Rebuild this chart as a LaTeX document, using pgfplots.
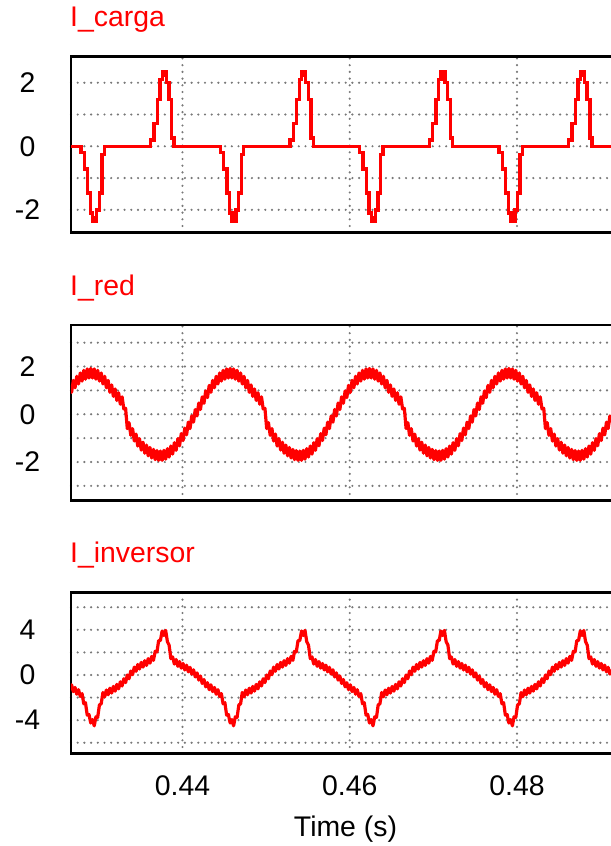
\documentclass[border=0pt]{standalone}
\usepackage{pgfplots}
\pgfplotsset{compat=1.18}
\usepackage{pgfplotstable}
\usepackage{fontspec}
\setmainfont{Liberation Sans}
\definecolor{psimred}{RGB}{255,0,0}
\definecolor{gridgray}{RGB}{120,120,120}
\newcommand{\fs}{\fontsize{28.5}{34}\selectfont}
\pgfplotsset{
  psim/.style={
    scale only axis,
    anchor=south west,
    width=543bp,
    xmin=0.42667, xmax=0.4916,
    xtick={0.44,0.46,0.48},
    major tick length=0pt,
    xmajorgrids, ymajorgrids,
    grid style={gridgray, line width=2.4bp, line cap=round, dash pattern=on 0bp off 6.7bp},
    axis line style={line width=2.8bp, black},
    tick label style={font=\fs, black},
    label style={font=\fs},
    yticklabel style={anchor=center, inner sep=0pt, xshift=-43.5bp},
    xticklabel style={anchor=base, inner sep=0pt, yshift=-41.7bp},
    title style={font=\fs, text=psimred, at={(0,1)}, anchor=base west, inner sep=0pt, xshift=-1bp, yshift=23.8bp},
  }
}
\pgfplotstableread{
t r v
0.42653 1.21 -1.30
0.42674 0.92 -0.87
0.42695 1.42 -1.47
0.42715 1.11 -1.10
0.42736 1.59 -1.70
0.42757 1.27 -1.30
0.42778 1.73 -1.90
0.42799 1.39 -1.65
0.42820 1.84 -2.55
0.42840 1.47 -2.45
0.42861 1.90 -3.55
0.42882 1.52 -3.50
0.42903 1.92 -4.25
0.42924 1.52 -3.95
0.42945 1.90 -4.50
0.42965 1.47 -3.70
0.42986 1.84 -3.75
0.43007 1.39 -2.65
0.43028 1.73 -2.55
0.43049 1.27 -1.55
0.43070 1.59 -1.93
0.43090 1.11 -1.33
0.43111 1.42 -1.75
0.43132 0.92 -1.17
0.43153 1.23 -1.60
0.43174 0.75 -1.01
0.43195 1.06 -1.43
0.43215 0.58 -0.83
0.43236 0.90 -1.23
0.43257 0.42 -0.60
0.43278 0.73 -0.97
0.43299 0.22 -0.33
0.43320 0.25 -0.67
0.43340 -0.60 0.00
0.43361 -0.35 -0.33
0.43382 -0.88 0.35
0.43403 -0.60 0.03
0.43424 -1.12 0.70
0.43445 -0.83 0.33
0.43465 -1.33 0.93
0.43486 -1.02 0.53
0.43507 -1.50 1.12
0.43528 -1.17 0.70
0.43549 -1.63 1.27
0.43570 -1.29 0.85
0.43590 -1.74 1.45
0.43611 -1.39 1.05
0.43632 -1.83 1.65
0.43653 -1.47 1.30
0.43674 -1.90 2.10
0.43695 -1.52 2.05
0.43715 -1.93 3.05
0.43736 -1.54 3.05
0.43757 -1.93 3.90
0.43778 -1.51 3.50
0.43799 -1.88 3.95
0.43820 -1.44 2.95
0.43840 -1.79 2.65
0.43861 -1.33 1.45
0.43882 -1.67 1.60
0.43903 -1.19 0.97
0.43924 -1.51 1.37
0.43945 -1.02 0.77
0.43965 -1.32 1.19
0.43986 -0.81 0.61
0.44007 -1.10 1.02
0.44028 -0.58 0.45
0.44049 -0.86 0.87
0.44070 -0.33 0.28
0.44090 -0.60 0.68
0.44111 -0.07 0.08
0.44132 -0.33 0.46
0.44153 0.20 -0.17
0.44174 -0.07 0.19
0.44195 0.47 -0.45
0.44215 0.20 -0.09
0.44236 0.73 -0.75
0.44257 0.46 -0.40
0.44278 0.98 -1.05
0.44299 0.70 -0.68
0.44320 1.21 -1.30
0.44340 0.92 -0.87
0.44361 1.42 -1.47
0.44382 1.11 -1.10
0.44403 1.59 -1.70
0.44424 1.27 -1.30
0.44445 1.73 -1.90
0.44465 1.39 -1.65
0.44486 1.84 -2.55
0.44507 1.47 -2.45
0.44528 1.90 -3.55
0.44549 1.52 -3.50
0.44570 1.92 -4.25
0.44590 1.52 -3.95
0.44611 1.90 -4.50
0.44632 1.47 -3.70
0.44653 1.84 -3.75
0.44674 1.39 -2.65
0.44695 1.73 -2.55
0.44715 1.27 -1.55
0.44736 1.59 -1.93
0.44757 1.11 -1.33
0.44778 1.42 -1.75
0.44799 0.92 -1.17
0.44820 1.23 -1.60
0.44840 0.75 -1.01
0.44861 1.06 -1.43
0.44882 0.58 -0.83
0.44903 0.90 -1.23
0.44924 0.42 -0.60
0.44945 0.73 -0.97
0.44965 0.22 -0.33
0.44986 0.25 -0.67
0.45007 -0.60 0.00
0.45028 -0.35 -0.33
0.45049 -0.88 0.35
0.45070 -0.60 0.03
0.45090 -1.12 0.70
0.45111 -0.83 0.33
0.45132 -1.33 0.93
0.45153 -1.02 0.53
0.45174 -1.50 1.12
0.45195 -1.17 0.70
0.45215 -1.63 1.27
0.45236 -1.29 0.85
0.45257 -1.74 1.45
0.45278 -1.39 1.05
0.45299 -1.83 1.65
0.45320 -1.47 1.30
0.45340 -1.90 2.10
0.45361 -1.52 2.05
0.45382 -1.93 3.05
0.45403 -1.54 3.05
0.45424 -1.93 3.90
0.45445 -1.51 3.50
0.45465 -1.88 3.95
0.45486 -1.44 2.95
0.45507 -1.79 2.65
0.45528 -1.33 1.45
0.45549 -1.67 1.60
0.45570 -1.19 0.97
0.45590 -1.51 1.37
0.45611 -1.02 0.77
0.45632 -1.32 1.19
0.45653 -0.81 0.61
0.45674 -1.10 1.02
0.45695 -0.58 0.45
0.45715 -0.86 0.87
0.45736 -0.33 0.28
0.45757 -0.60 0.68
0.45778 -0.07 0.08
0.45799 -0.33 0.46
0.45820 0.20 -0.17
0.45840 -0.07 0.19
0.45861 0.47 -0.45
0.45882 0.20 -0.09
0.45903 0.73 -0.75
0.45924 0.46 -0.40
0.45945 0.98 -1.05
0.45965 0.70 -0.68
0.45986 1.21 -1.30
0.46007 0.92 -0.87
0.46028 1.42 -1.47
0.46049 1.11 -1.10
0.46070 1.59 -1.70
0.46090 1.27 -1.30
0.46111 1.73 -1.90
0.46132 1.39 -1.65
0.46153 1.84 -2.55
0.46174 1.47 -2.45
0.46195 1.90 -3.55
0.46215 1.52 -3.50
0.46236 1.92 -4.25
0.46257 1.52 -3.95
0.46278 1.90 -4.50
0.46299 1.47 -3.70
0.46320 1.84 -3.75
0.46340 1.39 -2.65
0.46361 1.73 -2.55
0.46382 1.27 -1.55
0.46403 1.59 -1.93
0.46424 1.11 -1.33
0.46445 1.42 -1.75
0.46465 0.92 -1.17
0.46486 1.23 -1.60
0.46507 0.75 -1.01
0.46528 1.06 -1.43
0.46549 0.58 -0.83
0.46570 0.90 -1.23
0.46590 0.42 -0.60
0.46611 0.73 -0.97
0.46632 0.22 -0.33
0.46653 0.25 -0.67
0.46674 -0.60 0.00
0.46695 -0.35 -0.33
0.46715 -0.88 0.35
0.46736 -0.60 0.03
0.46757 -1.12 0.70
0.46778 -0.83 0.33
0.46799 -1.33 0.93
0.46820 -1.02 0.53
0.46840 -1.50 1.12
0.46861 -1.17 0.70
0.46882 -1.63 1.27
0.46903 -1.29 0.85
0.46924 -1.74 1.45
0.46945 -1.39 1.05
0.46965 -1.83 1.65
0.46986 -1.47 1.30
0.47007 -1.90 2.10
0.47028 -1.52 2.05
0.47049 -1.93 3.05
0.47070 -1.54 3.05
0.47090 -1.93 3.90
0.47111 -1.51 3.50
0.47132 -1.88 3.95
0.47153 -1.44 2.95
0.47174 -1.79 2.65
0.47195 -1.33 1.45
0.47215 -1.67 1.60
0.47236 -1.19 0.97
0.47257 -1.51 1.37
0.47278 -1.02 0.77
0.47299 -1.32 1.19
0.47320 -0.81 0.61
0.47340 -1.10 1.02
0.47361 -0.58 0.45
0.47382 -0.86 0.87
0.47403 -0.33 0.28
0.47424 -0.60 0.68
0.47445 -0.07 0.08
0.47465 -0.33 0.46
0.47486 0.20 -0.17
0.47507 -0.07 0.19
0.47528 0.47 -0.45
0.47549 0.20 -0.09
0.47570 0.73 -0.75
0.47590 0.46 -0.40
0.47611 0.98 -1.05
0.47632 0.70 -0.68
0.47653 1.21 -1.30
0.47674 0.92 -0.87
0.47695 1.42 -1.47
0.47715 1.11 -1.10
0.47736 1.59 -1.70
0.47757 1.27 -1.30
0.47778 1.73 -1.90
0.47799 1.39 -1.65
0.47820 1.84 -2.55
0.47840 1.47 -2.45
0.47861 1.90 -3.55
0.47882 1.52 -3.50
0.47903 1.92 -4.25
0.47924 1.52 -3.95
0.47945 1.90 -4.50
0.47965 1.47 -3.70
0.47986 1.84 -3.75
0.48007 1.39 -2.65
0.48028 1.73 -2.55
0.48049 1.27 -1.55
0.48070 1.59 -1.93
0.48090 1.11 -1.33
0.48111 1.42 -1.75
0.48132 0.92 -1.17
0.48153 1.23 -1.60
0.48174 0.75 -1.01
0.48195 1.06 -1.43
0.48215 0.58 -0.83
0.48236 0.90 -1.23
0.48257 0.42 -0.60
0.48278 0.73 -0.97
0.48299 0.22 -0.33
0.48320 0.25 -0.67
0.48340 -0.60 0.00
0.48361 -0.35 -0.33
0.48382 -0.88 0.35
0.48403 -0.60 0.03
0.48424 -1.12 0.70
0.48445 -0.83 0.33
0.48465 -1.33 0.93
0.48486 -1.02 0.53
0.48507 -1.50 1.12
0.48528 -1.17 0.70
0.48549 -1.63 1.27
0.48570 -1.29 0.85
0.48590 -1.74 1.45
0.48611 -1.39 1.05
0.48632 -1.83 1.65
0.48653 -1.47 1.30
0.48674 -1.90 2.10
0.48695 -1.52 2.05
0.48715 -1.93 3.05
0.48736 -1.54 3.05
0.48757 -1.93 3.90
0.48778 -1.51 3.50
0.48799 -1.88 3.95
0.48820 -1.44 2.95
0.48840 -1.79 2.65
0.48861 -1.33 1.45
0.48882 -1.67 1.60
0.48903 -1.19 0.97
0.48924 -1.51 1.37
0.48945 -1.02 0.77
0.48965 -1.32 1.19
0.48986 -0.81 0.61
0.49007 -1.10 1.02
0.49028 -0.58 0.45
0.49049 -0.86 0.87
0.49070 -0.33 0.28
0.49090 -0.60 0.68
0.49111 -0.07 0.08
0.49132 -0.33 0.46
}\redinv
\begin{document}
\begin{tikzpicture}
\useasboundingbox (0,0) rectangle (611bp,846bp);
% I_carga
\begin{axis}[psim, at={(71bp,613.3bp)}, height=176bp,
  ymin=-2.72, ymax=2.82,
  ytick={-2,-1,0,1,2}, yticklabels={-2,,0,,2},
  xticklabels={,,},
  title={I\_carga}]
\addplot[psimred, line width=3.4bp, const plot] coordinates {
(0.42655,0) (0.42786,-0.20) (0.42826,-0.72) (0.42866,-1.47) (0.42898,-2.10) (0.42926,-2.35) (0.42950,-2.25) (0.42956,-2.35) (0.42974,-2.00) (0.43006,-1.47) (0.43038,-0.26) (0.43066,0)
(0.43619,0.20) (0.43659,0.72) (0.43699,1.47) (0.43731,2.10) (0.43759,2.35) (0.43783,2.25) (0.43789,2.35) (0.43807,2.00) (0.43839,1.47) (0.43871,0.26) (0.43899,0)
(0.44452,-0.20) (0.44492,-0.72) (0.44532,-1.47) (0.44564,-2.10) (0.44592,-2.35) (0.44616,-2.25) (0.44622,-2.35) (0.44640,-2.00) (0.44672,-1.47) (0.44704,-0.26) (0.44732,0)
(0.45286,0.20) (0.45326,0.72) (0.45366,1.47) (0.45398,2.10) (0.45426,2.35) (0.45450,2.25) (0.45456,2.35) (0.45474,2.00) (0.45506,1.47) (0.45538,0.26) (0.45566,0)
(0.46119,-0.20) (0.46159,-0.72) (0.46199,-1.47) (0.46231,-2.10) (0.46259,-2.35) (0.46283,-2.25) (0.46289,-2.35) (0.46307,-2.00) (0.46339,-1.47) (0.46371,-0.26) (0.46399,0)
(0.46952,0.20) (0.46992,0.72) (0.47032,1.47) (0.47064,2.10) (0.47092,2.35) (0.47116,2.25) (0.47122,2.35) (0.47140,2.00) (0.47172,1.47) (0.47204,0.26) (0.47232,0)
(0.47786,-0.20) (0.47826,-0.72) (0.47866,-1.47) (0.47898,-2.10) (0.47926,-2.35) (0.47950,-2.25) (0.47956,-2.35) (0.47974,-2.00) (0.48006,-1.47) (0.48038,-0.26) (0.48066,0)
(0.48619,0.20) (0.48659,0.72) (0.48699,1.47) (0.48731,2.10) (0.48759,2.35) (0.48783,2.25) (0.48789,2.35) (0.48807,2.00) (0.48839,1.47) (0.48871,0.26) (0.48899,0)
(0.49160,0)
};
\end{axis}
% I_red
\begin{axis}[psim, at={(71bp,345.3bp)}, height=175.7bp,
  ymin=-3.62, ymax=3.74,
  ytick={-3,-2,-1,0,1,2,3}, yticklabels={,-2,,0,,2,},
  xticklabels={,,},
  title={I\_red}]
\addplot[psimred, line width=3.2bp, line join=round] table[x=t, y=r] {\redinv};
\end{axis}
% I_inversor
\begin{axis}[psim, at={(71bp,92.3bp)}, height=161bp,
  ymin=-6.97, ymax=7.29,
  ytick={-6,-4,-2,0,2,4,6}, yticklabels={,-4,,0,,4,},
  xticklabels={0.44,0.46,0.48},
  xlabel={Time (s)},
  xlabel style={at={(axis description cs:0.5,0)}, anchor=base, inner sep=0pt, yshift=-82.3bp, xshift=3bp},
  title={I\_inversor}]
\addplot[psimred, line width=3.2bp, line join=round] table[x=t, y=v] {\redinv};
\end{axis}
\end{tikzpicture}
\end{document}
